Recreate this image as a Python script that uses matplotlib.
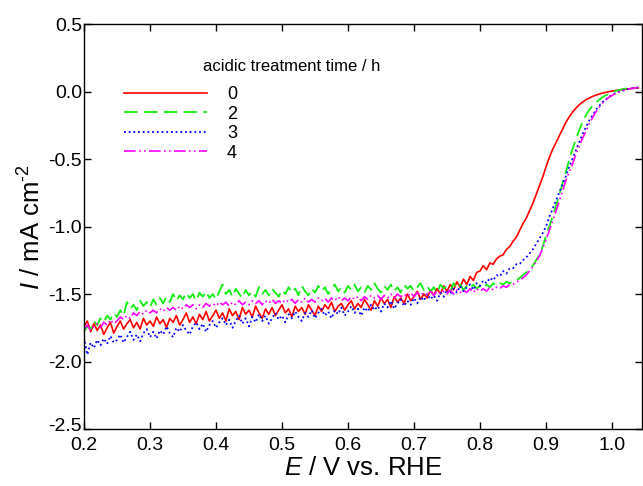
import numpy as np
import matplotlib
matplotlib.use("Agg")
import matplotlib.pyplot as plt
from matplotlib.transforms import ScaledTranslation

plt.rcParams['font.family'] = ['Liberation Sans', 'DejaVu Sans']
plt.rcParams['mathtext.fontset'] = 'custom'
plt.rcParams['mathtext.rm'] = 'Liberation Sans'
plt.rcParams['mathtext.it'] = 'Liberation Sans:italic'

# potential grid (V vs. RHE), 0.200 ... 1.040 in 5 mV steps
E = np.round(np.arange(0.200, 1.0401, 0.005), 3)

# current density (mA cm-2) for each acidic treatment time
I_0h = [
    -1.74, -1.70, -1.78, -1.72, -1.77, -1.73, -1.80, -1.75, -1.71, -1.79,
    -1.74, -1.70, -1.76, -1.72, -1.69, -1.75, -1.71, -1.76, -1.68, -1.73,
    -1.70, -1.74, -1.67, -1.72, -1.69, -1.75, -1.68, -1.71, -1.66, -1.73,
    -1.69, -1.64, -1.71, -1.67, -1.72, -1.65, -1.69, -1.63, -1.70, -1.66,
    -1.62, -1.68, -1.64, -1.70, -1.61, -1.66, -1.63, -1.69, -1.60, -1.65,
    -1.62, -1.67, -1.59, -1.64, -1.68, -1.61, -1.65, -1.60, -1.66, -1.62,
    -1.58, -1.64, -1.61, -1.67, -1.59, -1.63, -1.60, -1.65, -1.58, -1.62,
    -1.66, -1.59, -1.63, -1.58, -1.61, -1.56, -1.63, -1.59, -1.57, -1.62,
    -1.58, -1.55, -1.61, -1.57, -1.60, -1.54, -1.58, -1.62, -1.55, -1.59,
    -1.53, -1.57, -1.54, -1.60, -1.52, -1.56, -1.53, -1.57, -1.50, -1.55,
    -1.52, -1.48, -1.54, -1.50, -1.53, -1.47, -1.51, -1.46, -1.50, -1.44,
    -1.48, -1.43, -1.47, -1.41, -1.45, -1.39, -1.43, -1.37, -1.40, -1.34,
    -1.33, -1.29, -1.32, -1.27, -1.28, -1.24, -1.22, -1.21, -1.17, -1.15,
    -1.11, -1.08, -1.03, -0.98, -0.94, -0.885, -0.83, -0.765, -0.70, -0.635,
    -0.56, -0.49, -0.43, -0.38, -0.33, -0.28, -0.23, -0.19, -0.155, -0.125,
    -0.10, -0.08, -0.063, -0.05, -0.038, -0.028, -0.02, -0.013, -0.007, -0.002,
    0.003, 0.007, 0.011, 0.014, 0.017, 0.020, 0.022, 0.024, 0.026,
]
I_2h = [
    -1.78, -1.74, -1.76, -1.70, -1.73, -1.68, -1.71, -1.66, -1.69, -1.64,
    -1.67, -1.62, -1.66, -1.56, -1.61, -1.58, -1.62, -1.55, -1.59, -1.56,
    -1.60, -1.54, -1.58, -1.53, -1.57, -1.52, -1.56, -1.50, -1.55, -1.51,
    -1.54, -1.49, -1.53, -1.50, -1.55, -1.49, -1.52, -1.48, -1.53, -1.50,
    -1.54, -1.48, -1.43, -1.50, -1.47, -1.52, -1.46, -1.50, -1.53, -1.47,
    -1.51, -1.48, -1.52, -1.45, -1.50, -1.47, -1.51, -1.46, -1.49, -1.52,
    -1.47, -1.50, -1.45, -1.49, -1.46, -1.51, -1.44, -1.48, -1.51, -1.46,
    -1.49, -1.44, -1.48, -1.45, -1.50, -1.46, -1.43, -1.48, -1.45, -1.49,
    -1.44, -1.47, -1.43, -1.48, -1.45, -1.49, -1.44, -1.47, -1.42, -1.46,
    -1.49, -1.44, -1.47, -1.43, -1.48, -1.45, -1.49, -1.43, -1.46, -1.44,
    -1.48, -1.45, -1.42, -1.47, -1.44, -1.48, -1.45, -1.49, -1.43, -1.46,
    -1.44, -1.48, -1.42, -1.46, -1.43, -1.47, -1.44, -1.46, -1.43, -1.46,
    -1.44, -1.46, -1.43, -1.45, -1.42, -1.44, -1.42, -1.43, -1.41, -1.42,
    -1.40, -1.40, -1.38, -1.36, -1.34, -1.32, -1.29, -1.25, -1.21, -1.15,
    -1.07, -1.00, -0.93, -0.85, -0.77, -0.68, -0.60, -0.51, -0.43, -0.36,
    -0.29, -0.23, -0.18, -0.14, -0.11, -0.085, -0.063, -0.045, -0.030, -0.018,
    -0.008, 0.002, 0.010, 0.016, 0.021, 0.025, 0.027, 0.028, 0.029,
]
I_3h = [
    -1.82, -1.95, -1.86, -1.90, -1.84, -1.88, -1.83, -1.87, -1.81, -1.86,
    -1.84, -1.80, -1.86, -1.82, -1.78, -1.84, -1.80, -1.85, -1.79, -1.76,
    -1.82, -1.78, -1.83, -1.77, -1.80, -1.74, -1.79, -1.82, -1.75, -1.78,
    -1.73, -1.77, -1.80, -1.74, -1.71, -1.76, -1.72, -1.78, -1.73, -1.70,
    -1.75, -1.71, -1.68, -1.73, -1.69, -1.75, -1.70, -1.66, -1.72, -1.68,
    -1.74, -1.67, -1.71, -1.65, -1.70, -1.66, -1.72, -1.68, -1.64, -1.69,
    -1.66, -1.71, -1.65, -1.68, -1.63, -1.67, -1.70, -1.64, -1.67, -1.62,
    -1.68, -1.64, -1.61, -1.66, -1.63, -1.68, -1.62, -1.65, -1.60, -1.66,
    -1.63, -1.59, -1.64, -1.61, -1.66, -1.60, -1.63, -1.58, -1.62, -1.59,
    -1.63, -1.57, -1.60, -1.55, -1.61, -1.57, -1.54, -1.59, -1.55, -1.58,
    -1.53, -1.57, -1.52, -1.55, -1.50, -1.54, -1.51, -1.55, -1.49, -1.52,
    -1.47, -1.50, -1.46, -1.49, -1.44, -1.48, -1.45, -1.43, -1.47, -1.42,
    -1.44, -1.40, -1.42, -1.38, -1.40, -1.36, -1.37, -1.33, -1.35, -1.31,
    -1.31, -1.28, -1.28, -1.25, -1.23, -1.20, -1.17, -1.13, -1.09, -1.05,
    -1.00, -0.93, -0.87, -0.81, -0.75, -0.69, -0.63, -0.56, -0.50, -0.44,
    -0.38, -0.32, -0.27, -0.22, -0.18, -0.14, -0.11, -0.083, -0.060, -0.040,
    -0.026, -0.013, -0.003, 0.005, 0.012, 0.018, 0.023, 0.027, 0.030,
]
I_4h = [
    -1.76, -1.73, -1.77, -1.74, -1.72, -1.75, -1.71, -1.73, -1.69, -1.72,
    -1.70, -1.67, -1.69, -1.66, -1.68, -1.64, -1.66, -1.63, -1.65, -1.62,
    -1.64, -1.62, -1.64, -1.61, -1.63, -1.60, -1.62, -1.60, -1.62, -1.59,
    -1.61, -1.58, -1.60, -1.58, -1.61, -1.58, -1.60, -1.57, -1.59, -1.57,
    -1.59, -1.56, -1.58, -1.56, -1.59, -1.56, -1.58, -1.55, -1.58, -1.56,
    -1.58, -1.55, -1.57, -1.55, -1.58, -1.55, -1.57, -1.54, -1.57, -1.55,
    -1.57, -1.54, -1.56, -1.54, -1.57, -1.54, -1.56, -1.53, -1.56, -1.54,
    -1.56, -1.53, -1.55, -1.53, -1.56, -1.53, -1.55, -1.52, -1.55, -1.53,
    -1.55, -1.52, -1.54, -1.52, -1.55, -1.52, -1.54, -1.51, -1.53, -1.51,
    -1.54, -1.51, -1.53, -1.50, -1.53, -1.50, -1.52, -1.50, -1.52, -1.49,
    -1.52, -1.49, -1.51, -1.49, -1.51, -1.48, -1.51, -1.48, -1.50, -1.48,
    -1.50, -1.47, -1.50, -1.47, -1.49, -1.47, -1.49, -1.46, -1.49, -1.46,
    -1.48, -1.46, -1.48, -1.45, -1.47, -1.45, -1.46, -1.44, -1.45, -1.43,
    -1.43, -1.41, -1.40, -1.38, -1.36, -1.33, -1.30, -1.26, -1.22, -1.16,
    -1.10, -1.03, -0.96, -0.89, -0.81, -0.74, -0.66, -0.60, -0.54, -0.47,
    -0.41, -0.35, -0.30, -0.245, -0.20, -0.155, -0.12, -0.09, -0.065, -0.045,
    -0.030, -0.016, -0.005, 0.004, 0.012, 0.018, 0.023, 0.027, 0.030,
]

labels = ['0', '2', '3', '4']
legend_title = 'acidic treatment time / h'
xticks = [0.2, 0.3, 0.4, 0.5, 0.6, 0.7, 0.8, 0.9, 1.0]
yticks = [0.5, 0.0, -0.5, -1.0, -1.5, -2.0, -2.5]

fig = plt.figure(figsize=(6.43, 4.86), dpi=100)
ax = fig.add_axes([84 / 643, 1 - 429 / 486, 558 / 643, 405 / 486])

ax.plot(E, I_0h, color='#ff0000', lw=1.2, ls='-', label=labels[0])
ax.plot(E, I_2h, color='#11ee11', lw=1.3, dashes=(7.5, 3.5), label=labels[1])
ax.plot(E, I_3h, color='#0000ff', lw=1.3, dashes=(1, 1.6), label=labels[2])
ax.plot(E, I_4h, color='#ff00ff', lw=1.2, dashes=(7, 2, 1, 2, 1, 2), label=labels[3])

ax.set_xlim(0.2, 1.0455)
ax.set_ylim(-2.5, 0.5)
ax.set_xticks(xticks)
ax.set_yticks(yticks)
ax.set_xticklabels([f'{t:.1f}' for t in xticks])
ax.set_yticklabels([f'{t:.1f}' for t in yticks])
ax.tick_params(direction='in', length=5, width=1, top=True, right=True,
               labelsize=14, colors='black')
ax.tick_params(axis='y', pad=1.5)
ax.tick_params(axis='x', pad=5.5)
for sp in ax.spines.values():
    sp.set_linewidth(1.0)

# lift the bottom y tick label slightly so it does not collide with "0.2"
low_lab = ax.get_yticklabels()[-1]
low_lab.set_transform(low_lab.get_transform() +
                      ScaledTranslation(0, 3 / 72, fig.dpi_scale_trans))

ax.set_xlabel(r'$\mathit{E}$ / V vs. RHE', fontsize=18.5, labelpad=2)
ax.set_ylabel(r'$\mathit{I}$ / mA cm$^{\text{-2}}$', fontsize=18.5, labelpad=2)

leg = ax.legend(loc='upper left', bbox_to_anchor=(40 / 558, (429 - 86) / 405),
                frameon=False, fontsize=13, handlelength=4.6, handletextpad=1.1,
                labelspacing=0.14, borderpad=0, borderaxespad=0)
ax.text(203, 486 - 66, legend_title, transform=None, fontsize=12,
        ha='left', va='center')

fig.savefig('out.png', dpi=100)
